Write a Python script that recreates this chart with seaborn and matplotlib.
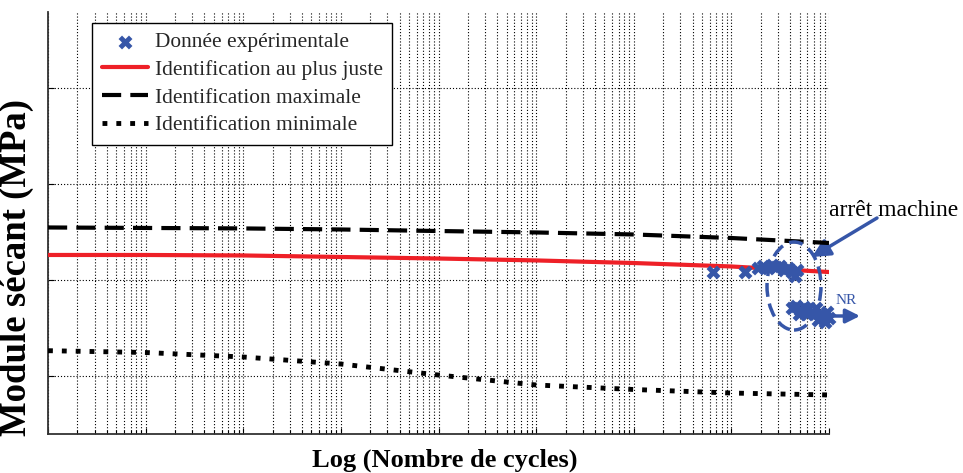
import numpy as np
import pandas as pd
import matplotlib
matplotlib.use("Agg")
import matplotlib.pyplot as plt
import seaborn as sns
from matplotlib.patches import Ellipse

# ---------------- data ----------------
model_cycles = [1e0, 1e1, 1e2, 1e3, 1e4, 1e5, 1e6, 1e7, 1e8]
fit_best = [2261, 2261, 2256, 2240, 2224, 2204, 2177, 2141, 2083]
fit_max = [2548, 2543, 2538, 2527, 2511, 2496, 2475, 2438, 2386]
fit_min = [1262, 1243, 1196, 1123, 1008, 904, 857, 820, 800]

exp_cycles = [6.5e6, 1.38e7, 1.88e7, 2.12e7, 2.38e7, 2.62e7, 2.88e7, 3.16e7,
              3.48e7, 3.82e7, 4.2e7, 4.5e7, 4.72e7,
              4.2e7, 4.6e7, 5.05e7, 5.55e7, 6.1e7, 6.7e7, 7.35e7, 8.1e7,
              8.9e7, 9.5e7, 9.95e7, 4.9e7, 6.0e7, 7.8e7, 9.2e7]
exp_modulus = [2083, 2083, 2125, 2146, 2125, 2157, 2136, 2146,
               2104, 2125, 2083, 2042, 2104,
               1708, 1729, 1687, 1718, 1697, 1666, 1708, 1645,
               1603, 1666, 1603, 1645, 1645, 1582, 1562]

labels = ["Donnée expérimentale", "Identification au plus juste",
          "Identification maximale", "Identification minimale"]
x_label = "Log (Nombre de cycles)"
y_label = "Module sécant (MPa)"
y_grid = [1000, 2000, 3000, 4000]

BLUE = "#3656a8"
RED = "#ee2027"

sns.set_theme(style="white")
plt.rcParams["font.family"] = ["Liberation Serif", "DejaVu Serif"]

fig = plt.figure(figsize=(9.63, 4.73), dpi=100)
ax = fig.add_axes([48 / 963, 39 / 473, 781 / 963, 422.3 / 473])

df_model = pd.DataFrame({"cycles": model_cycles, "best": fit_best,
                         "max": fit_max, "min": fit_min})
df_exp = pd.DataFrame({"cycles": exp_cycles, "mod": exp_modulus})

sns.scatterplot(data=df_exp, x="cycles", y="mod", ax=ax, marker="X", s=100,
                color=BLUE, edgecolor=BLUE, linewidth=0, label=labels[0],
                zorder=5, clip_on=False)
sns.lineplot(data=df_model, x="cycles", y="best", ax=ax, color=RED, lw=3,
             label=labels[1], zorder=4)
sns.lineplot(data=df_model, x="cycles", y="max", ax=ax, color="black", lw=3,
             label=labels[2], zorder=4)
sns.lineplot(data=df_model, x="cycles", y="min", ax=ax, color="black", lw=3.5,
             label=labels[3], zorder=4)
lines = ax.get_lines()
lines[1].set_dashes((4.6, 2.2))
lines[1].set_dash_capstyle("butt")
lines[2].set_dashes((1.0, 1.85))
lines[2].set_dash_capstyle("butt")

ax.set_xscale("log")
ax.set_xlim(1, 1e8)
ax.set_ylim(392.5, 4800)
ax.set_yticks(y_grid)
ax.xaxis.set_major_locator(matplotlib.ticker.LogLocator(base=10, numticks=20))
ax.xaxis.set_minor_locator(matplotlib.ticker.LogLocator(base=10, subs=np.arange(2, 10), numticks=100))
ax.tick_params(axis="both", which="both", direction="in", labelbottom=False,
               labelleft=False, length=4, width=0.8, color="black",
               bottom=True, left=True)
ax.tick_params(axis="x", which="minor", length=3)
ax.grid(True, which="both", axis="x", color="black", linestyle=(0, (1.0, 1.8)), lw=0.8)
ax.grid(True, which="major", axis="y", color="black", linestyle=(0, (1.0, 1.8)), lw=0.8)
for s in ["top", "right"]:
    ax.spines[s].set_visible(False)
for s in ["left", "bottom"]:
    ax.spines[s].set_color("#333333")
    ax.spines[s].set_linewidth(1.3)

ax.set_xlabel(x_label, fontsize=19, fontweight="bold", color="black")
ax.set_ylabel(y_label, fontsize=26.5, fontweight="bold", color="black")
ax.xaxis.set_label_coords((444.5 - 48) / 781, (434 - 449) / 422.3)
ax.yaxis.set_label_coords((34 - 48) / 781, (434 - 267) / 422.3)

leg = ax.legend(loc="upper left", bbox_to_anchor=((92 - 48) / 781, (434 - 22.7) / 422.3),
                fontsize=15.4, frameon=True, fancybox=False, framealpha=1,
                edgecolor="black", borderaxespad=0, handlelength=2.15,
                handletextpad=0.33, labelspacing=0.36, borderpad=0.45)
leg.get_frame().set_linewidth(1.0)

# annotations
def af(px, py):
    return ((px - 48) / 781, (434 - py) / 422.3)

ell = Ellipse(af(794, 286), 54 / 781, 88 / 422.3, transform=ax.transAxes,
              fill=False, edgecolor=BLUE, lw=2.5, linestyle=(0, (4, 2)),
              clip_on=False, zorder=6)
ax.add_patch(ell)
ax.annotate("", xy=af(812, 257), xytext=af(877, 218), xycoords="axes fraction",
            textcoords="axes fraction",
            arrowprops=dict(arrowstyle="-|>,head_length=0.9,head_width=0.45",
                            color=BLUE, lw=2.5, shrinkA=0, shrinkB=0),
            annotation_clip=False)
ax.text(*af(894, 210), "arrêt machine", transform=ax.transAxes, fontsize=17,
        ha="center", va="center", color="black")
ax.annotate("", xy=af(860, 316), xytext=af(828, 316), xycoords="axes fraction",
            textcoords="axes fraction",
            arrowprops=dict(arrowstyle="-|>,head_length=0.7,head_width=0.35",
                            color=BLUE, lw=2.5, shrinkA=0, shrinkB=0),
            annotation_clip=False)
ax.text(*af(846, 300), "NR", transform=ax.transAxes, fontsize=11,
        ha="center", va="center", color=BLUE)

fig.savefig("out.png", dpi=100, facecolor="white")
